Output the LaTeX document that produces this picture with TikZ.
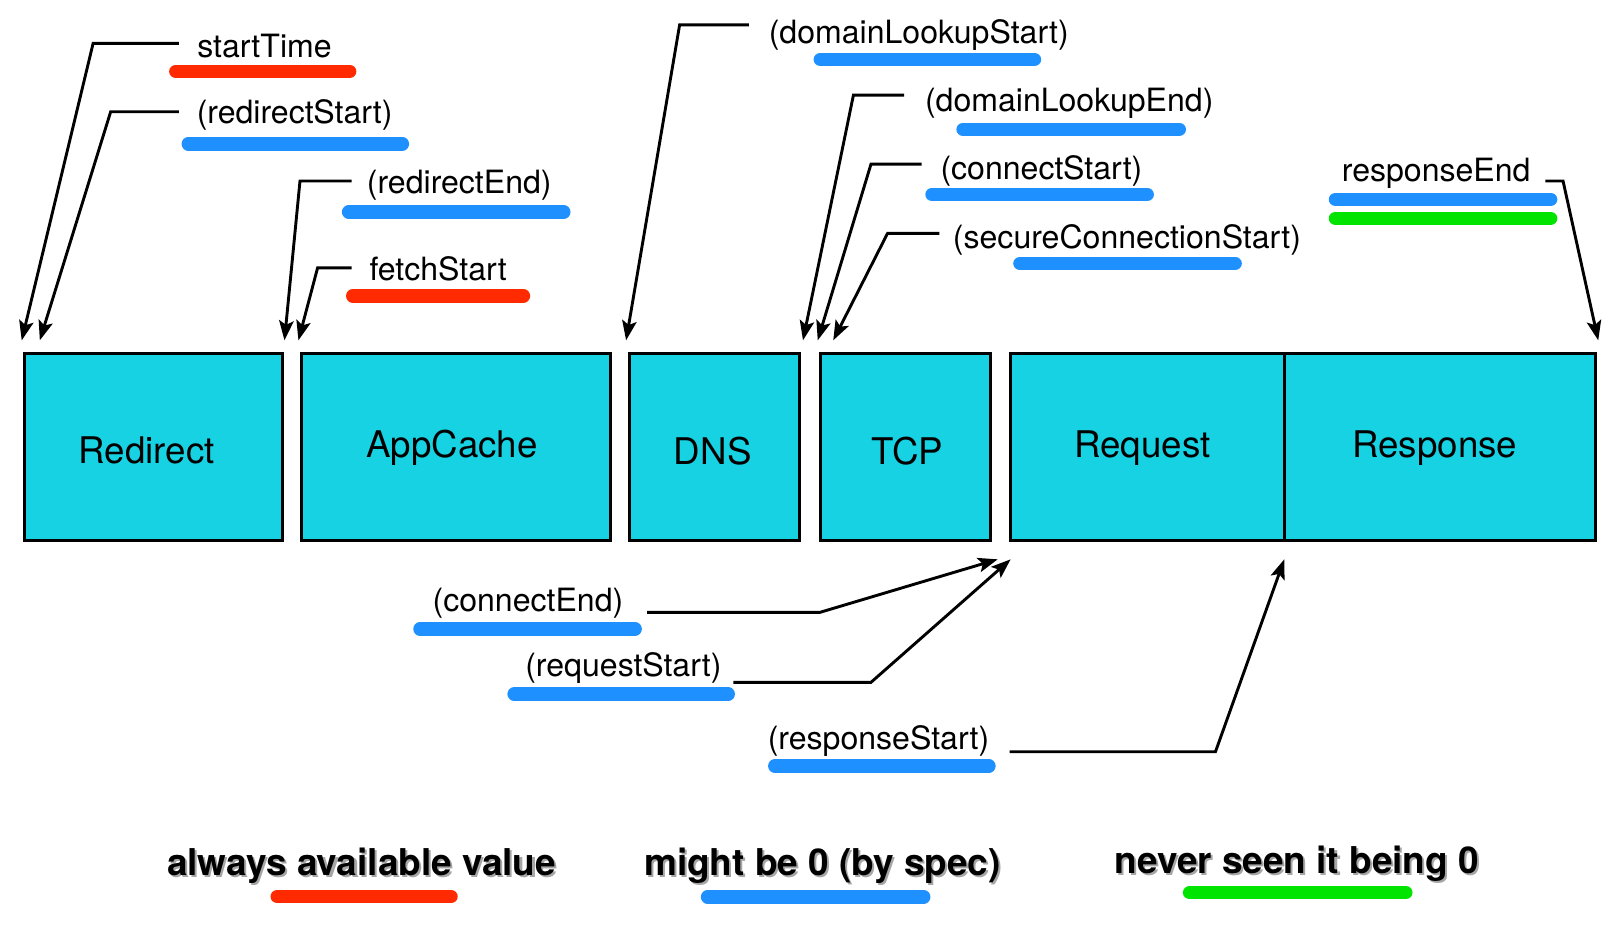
\documentclass[tikz,border=0pt]{standalone}
\usepackage{fontspec}
\setmainfont{TeX Gyre Heros}
\usetikzlibrary{arrows.meta}
\definecolor{boxcyan}{RGB}{22,210,226}
\definecolor{barred}{RGB}{255,42,0}
\definecolor{barblue}{RGB}{30,144,255}
\definecolor{bargreen}{RGB}{0,228,0}
\begin{document}
\begin{tikzpicture}[x=1pt,y=-1pt,
  box/.style={draw=black, line width=3pt, fill=boxcyan, inner sep=0pt, minimum height=180.7pt},
  boxtext/.style={inner sep=0pt, font=\fontsize{35.5}{40}\selectfont},
  lab/.style={anchor=base west, inner sep=0pt, font=\fontsize{31}{36}\selectfont},
  leg/.style={anchor=base, inner sep=0pt, font=\fontsize{35.7}{40}\selectfont\bfseries},
  legshadow/.style={leg, text=black!35},
  leader/.style={draw=black, line width=2.8pt, line join=miter, -{Stealth[length=19pt,width=14pt,inset=4pt]}},
  bar/.style={line width=13pt, line cap=round}
]
\useasboundingbox (0,0) rectangle (1568,915);

% boxes
\node[box, minimum width=249.5pt] (redirect) at (148.75,431.85) {};
\node[box, minimum width=299pt] (appcache) at (441,431.85) {};
\node[box, minimum width=164.5pt] (dns) at (690.5,431.85) {};
\node[box, minimum width=164.5pt] (tcp) at (875.25,431.85) {};
\node[box, minimum width=265.5pt] (request) at (1109.25,431.85) {};
\node[box, minimum width=300pt] (response) at (1392,431.85) {};

\node[boxtext] (redirectT) at ([shift={(-7pt,-4pt)}]redirect.center) {Redirect};
\node[boxtext] (appcacheT) at ([shift={(-4pt,-1pt)}]appcache.center) {AppCache};
\node[boxtext] (dnsT) at ([shift={(-1.5pt,-4pt)}]dns.center) {DNS};
\node[boxtext] (tcpT) at ([shift={(2pt,-4pt)}]tcp.center) {TCP};
\node[boxtext] (requestT) at ([shift={(-5pt,-1pt)}]request.center) {Request};
\node[boxtext] (responseT) at ([shift={(-5pt,-1pt)}]response.center) {Response};

% labels
\node[lab] (lstart) at (190.5,56) {startTime};
\node[lab] (lrs) at (190,119) {(redirectStart)};
\node[lab] (lre) at (354.5,187) {(redirectEnd)};
\node[lab] (lfs) at (357,271) {fetchStart};
\node[lab] (ldls) at (743,42) {(domainLookupStart)};
\node[lab] (ldle) at (894,108) {(domainLookupEnd)};
\node[lab] (lcs) at (909,174) {(connectStart)};
\node[lab] (lscs) at (921,240) {(secureConnectionStart)};
\node[lab] (lrend) at (1297,175.6) {responseEnd};
\node[lab] (lce) at (418,591) {(connectEnd)};
\node[lab] (lreq) at (507.6,654) {(requestStart)};
\node[lab] (lrsp) at (742,725) {(responseStart)};

% underline bars
\draw[bar, barred] (170,69) -- (338,69);
\draw[bar, barblue] (182,139) -- (389,139);
\draw[bar, barblue] (337,205) -- (545,205);
\draw[bar, barred] (341,286) -- (506,286);
\draw[bar, barblue] (793,57.5) -- (1000,57.5);
\draw[bar, barblue] (931,125) -- (1140,125);
\draw[bar, barblue] (901,188) -- (1109,188);
\draw[bar, barblue] (986,254.6) -- (1194,254.6);
\draw[bar, barblue] (1291,192.7) -- (1499,192.7);
\draw[bar, bargreen] (1291,211) -- (1499,211);
\draw[bar, barblue] (406,608) -- (614,608);
\draw[bar, barblue] (497,671) -- (704,671);
\draw[bar, barblue] (749,740.5) -- (956,740.5);

% leader points
\coordinate (a1) at (173,42);   \coordinate (k1) at (90,42);
\coordinate (a2) at (173,108);  \coordinate (k2) at (107,108);
\coordinate (a3) at (340,175);  \coordinate (k3) at (290,175);
\coordinate (a4) at (340,259);  \coordinate (k4) at (307,259);
\coordinate (a5) at (724,24);   \coordinate (k5) at (657,24);
\coordinate (a6) at (874,92);   \coordinate (k6) at (825,92);
\coordinate (a7) at (891,158.6); \coordinate (k7) at (842,158.6);
\coordinate (a8) at (908,225.6); \coordinate (k8) at (858,225.6);
\coordinate (a9) at (1494,175); \coordinate (k9) at (1511,175);
\coordinate (a10) at (625.6,592); \coordinate (k10) at (792.5,592);
\coordinate (a11) at (709,659.6); \coordinate (k11) at (842,659.6);
\coordinate (a12) at (976,726.7); \coordinate (k12) at (1175,726.7);

\coordinate (t1) at ([shift={(-1.5pt,11pt)}]redirect.north west);
\coordinate (t2) at ([shift={(16pt,11pt)}]redirect.north west);
\coordinate (t3) at ([shift={(0pt,11pt)}]redirect.north east);
\coordinate (t4) at ([shift={(-1.5pt,11pt)}]appcache.north west);
\coordinate (t5) at ([shift={(-1.5pt,11pt)}]dns.north west);
\coordinate (t6) at ([shift={(2pt,11pt)}]dns.north east);
\coordinate (t7) at ([shift={(-1pt,11pt)}]tcp.north west);
\coordinate (t8) at ([shift={(14pt,11pt)}]tcp.north west);
\coordinate (t9) at ([shift={(1.5pt,11pt)}]response.north east);
\coordinate (t10) at ([shift={(5.5pt,-17pt)}]tcp.south east);
\coordinate (t11) at ([shift={(2pt,-17pt)}]request.south west);
\coordinate (t12) at ([shift={(1pt,-17pt)}]response.south west);

\foreach \i in {1,...,12}{
  \draw[leader] (a\i) -- (k\i) -- (t\i);
}

% legend
\node[legshadow] at (351.5,848.5) {always available value};
\node[leg] (legA) at (349.5,846) {always available value};
\node[legshadow] at (797,848.5) {might be 0 (by spec)};
\node[leg] (legB) at (795,846) {might be 0 (by spec)};
\node[legshadow] at (1255.6,846.5) {never seen it being 0};
\node[leg] (legC) at (1253.6,844) {never seen it being 0};
\draw[bar, barred] (268,866.8) -- (436,866.8);
\draw[bar, barblue] (684,867) -- (893,867);
\draw[bar, bargreen] (1150,863) -- (1359,863);
\end{tikzpicture}
\end{document}
